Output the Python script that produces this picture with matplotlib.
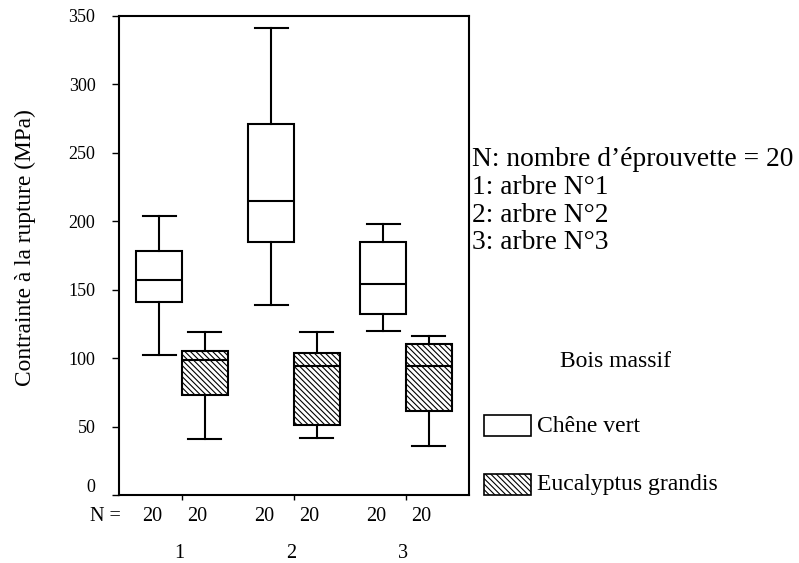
import matplotlib
matplotlib.use('Agg')
import matplotlib.pyplot as plt
from matplotlib.patches import Rectangle
import matplotlib.transforms as mtransforms

plt.rcParams['font.family'] = ['Liberation Serif', 'DejaVu Serif']
plt.rcParams['hatch.linewidth'] = 0.8

# ---------------- data ----------------
groups = ['1', '2', '3']
n_chene = [20, 20, 20]
n_euc = [20, 20, 20]
series_labels = ['Chêne vert', 'Eucalyptus grandis']

# Chêne vert
chene_whislo = [102, 139, 119.5]
chene_q1 = [141, 185, 132]
chene_med = [157, 215, 154]
chene_q3 = [178.5, 271, 185]
chene_whishi = [204, 341, 198]

# Eucalyptus grandis
euc_whislo = [41, 42, 35.5]
euc_q1 = [73, 51, 61.5]
euc_med = [99, 94, 94.5]
euc_q3 = [105, 103.5, 110.5]
euc_whishi = [119, 119, 116]

yticks = [0, 50, 100, 150, 200, 250, 300, 350]
ylabel = 'Contrainte à la rupture (MPa)'
info_lines = ['N: nombre d’éprouvette = 20', '1: arbre N°1', '2: arbre N°2', '3: arbre N°3']
legend_title = 'Bois massif'

# ---------------- figure ----------------
W, H = 799, 563
fig = plt.figure(figsize=(W / 100, H / 100), dpi=100)
ax = fig.add_axes([119 / W, (H - 495) / H, 350 / W, 479 / H])

HATCH = '\\' * 6


def px(x, y):
    return (x / W, 1 - y / H)


def stats(lo, q1, med, q3, hi):
    return [dict(whislo=a, q1=b, med=c, q3=d, whishi=e, fliers=[])
            for a, b, c, d, e in zip(lo, q1, med, q3, hi)]


pos = list(range(1, len(groups) + 1))
off = 0.205
bw = 0.41
cw = 0.295
lw = 1.5

common = dict(widths=bw, capwidths=cw, patch_artist=True, showfliers=False,
              manage_ticks=False,
              whiskerprops=dict(color='black', linewidth=lw),
              capprops=dict(color='black', linewidth=lw),
              medianprops=dict(color='black', linewidth=lw))

ax.bxp(stats(chene_whislo, chene_q1, chene_med, chene_q3, chene_whishi),
       positions=[p - off for p in pos],
       boxprops=dict(facecolor='white', edgecolor='black', linewidth=lw),
       **common)
ax.bxp(stats(euc_whislo, euc_q1, euc_med, euc_q3, euc_whishi),
       positions=[p + off for p in pos],
       boxprops=dict(facecolor='white', edgecolor='black', linewidth=lw, hatch=HATCH),
       **common)

ax.set_xlim(0.4375, 3.5625)
ax.set_ylim(0, 350)
ax.set_yticks(yticks)
ax.set_yticklabels([str(v) for v in yticks])
ax.set_xticks(pos)
ax.set_xticklabels(groups)

for s in ax.spines.values():
    s.set_linewidth(1.5)

ax.tick_params(axis='y', direction='out', length=5, width=1, labelsize=13, pad=12)
ax.tick_params(axis='x', direction='out', length=3.6, width=1, labelsize=14.5, pad=32)

# SPSS-style raised "0" label
zero_lbl = ax.yaxis.get_major_ticks()[0].label1
zero_lbl.set_transform(zero_lbl.get_transform() +
                       mtransforms.ScaledTranslation(0, 9 / 100, fig.dpi_scale_trans))
for t in ax.xaxis.get_major_ticks():
    t.label1.set_transform(t.label1.get_transform() +
                           mtransforms.ScaledTranslation(-3 / 100, 0, fig.dpi_scale_trans))

# N = row
ax.annotate('N =', xy=(0, 0), xycoords='axes fraction', xytext=(-29, -21.7),
            textcoords='offset pixels', ha='left', va='center', fontsize=14.5)
for p, a, b in zip(pos, n_chene, n_euc):
    ax.annotate(str(a), xy=(p, 0), xycoords=('data', 'axes fraction'), xytext=(-30, -21.7),
                textcoords='offset pixels', ha='center', va='center', fontsize=14.5)
    ax.annotate(str(b), xy=(p, 0), xycoords=('data', 'axes fraction'), xytext=(15, -21.7),
                textcoords='offset pixels', ha='center', va='center', fontsize=14.5)

# y label
fig.text(*px(25, 248), ylabel, rotation=90, ha='center', va='center', fontsize=16.8)

# info text
for line, yb in zip(info_lines, [166, 194, 221.5, 249]):
    fig.text(*px(472, yb), line, ha='left', va='baseline', fontsize=19.8)

# legend
fig.text(*px(616, 366.7), legend_title, ha='center', va='baseline', fontsize=17)
for lab, ytop, ybase, hatch in zip(series_labels, [415, 474], [431.7, 490], [None, HATCH]):
    x0, y0 = px(484, ytop + 21)
    r = Rectangle((x0, y0), 47 / W, 21 / H, transform=fig.transFigure,
                  facecolor='white', edgecolor='black', linewidth=1.2, hatch=hatch)
    fig.add_artist(r)
    fig.text(*px(537, ybase), lab, ha='left', va='baseline', fontsize=17)

fig.savefig('out.png', dpi=100)
